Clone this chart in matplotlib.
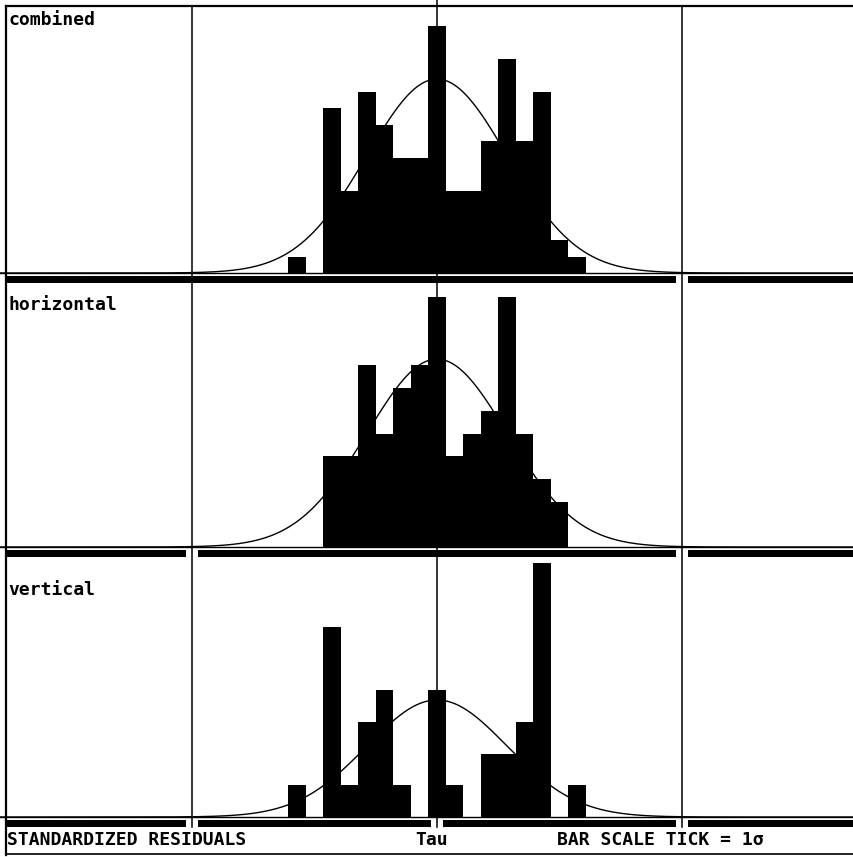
import matplotlib.pyplot as plt
import numpy as np
from matplotlib.lines import Line2D
from matplotlib.patches import Rectangle

# histogram bins are 0.25 sigma wide, centred on -2.0 ... +2.0 sigma
bin_pos = np.arange(-8, 9) * 0.25

panel_names = ["combined", "horizontal", "vertical"]
combined = [1, 0, 10, 5, 11, 9, 7, 7, 15, 5, 5, 8, 13, 8, 11, 2, 1]
horizontal = [0, 0, 4, 4, 8, 5, 7, 8, 11, 4, 5, 6, 11, 5, 3, 2, 0]
vertical = [1, 0, 6, 1, 3, 4, 1, 0, 4, 1, 0, 2, 2, 3, 8, 0, 1]
counts = [combined, horizontal, vertical]

guide_lines = [-3.5, 0.0, 3.5]  # sigma
footer = ["STANDARDIZED RESIDUALS", "Tau", "BAR SCALE TICK = 1\u03c3"]

# ---- layout (pixels of the 854x857 picture) ----
W, H = 854, 857
x0_px, sig_px = 437, 70.0
panel_top = [6, 283, 557]
panel_base = [273, 547, 817]
label_top = [11, 296, 581]
ytop = [16.2, 11.63, 8.2]
band_gaps = [[3.5], [-3.5, 3.5], [-3.5, 0.0, 3.5]]
bin_w = 0.25


def fx(px):
    return px / W


def fy(py):
    return 1 - py / H


def to_px(s):
    return x0_px + s * sig_px


fig = plt.figure(figsize=(W / 100, H / 100), dpi=100)
fig.patch.set_facecolor("white")
font = dict(family="DejaVu Sans Mono", weight="bold", size=13)

xlim = (-x0_px / sig_px, (W - x0_px) / sig_px)
xs = np.linspace(xlim[0], xlim[1], 600)

for i in range(3):
    top, base = panel_top[i], panel_base[i]
    band_bot = base + 10
    ax = fig.add_axes([0, fy(band_bot), 1, fy(top) - fy(band_bot)])
    f0 = (band_bot - base) / (band_bot - top)
    ax.set_xlim(*xlim)
    ax.set_ylim(-ytop[i] * f0 / (1 - f0), ytop[i])
    ax.axis("off")

    c = np.array(counts[i])
    ax.bar(bin_pos, c, width=bin_w, color="black", linewidth=0)
    n = c.sum()
    curve = n * bin_w * np.exp(-xs**2 / 2) / np.sqrt(2 * np.pi)
    ax.plot(xs, curve, color="black", lw=1.0)
    ax.axhline(0, color="black", lw=1.0)

    # thick separator band under the baseline
    fig.add_artist(Rectangle((fx(6), fy(band_bot)), 1, fy(base + 3) - fy(band_bot),
                             transform=fig.transFigure, color="black", lw=0))
    for g in band_gaps[i]:
        fig.add_artist(Rectangle((fx(to_px(g) - 6), fy(band_bot + 1)), fx(12),
                                 fy(base + 2) - fy(band_bot + 1),
                                 transform=fig.transFigure, color="white", lw=0))

    fig.text(fx(8), fy(label_top[i]), panel_names[i], ha="left", va="top", **font)

# borders
fig.add_artist(Line2D([fx(6), 1], [fy(6), fy(6)], transform=fig.transFigure,
                      color="black", lw=1.6))
fig.add_artist(Line2D([fx(6), fx(6)], [fy(6), fy(855)], transform=fig.transFigure,
                      color="black", lw=1.6))
fig.add_artist(Line2D([fx(6), 1], [fy(854), fy(854)], transform=fig.transFigure,
                      color="black", lw=1.2))

# vertical guide lines at -3.5, 0, +3.5 sigma
for g in guide_lines:
    ytop_px = 0 if g == 0 else 6
    fig.add_artist(Line2D([fx(to_px(g))] * 2, [fy(ytop_px), fy(827)],
                          transform=fig.transFigure, color="black", lw=1.1))

fig.text(fx(7), fy(840), footer[0], ha="left", va="center", **font)
fig.text(fx(432), fy(840), footer[1], ha="center", va="center", **font)
fig.text(fx(660), fy(840), footer[2], ha="center", va="center", **font)

fig.savefig("out.png", dpi=100, facecolor="white")
